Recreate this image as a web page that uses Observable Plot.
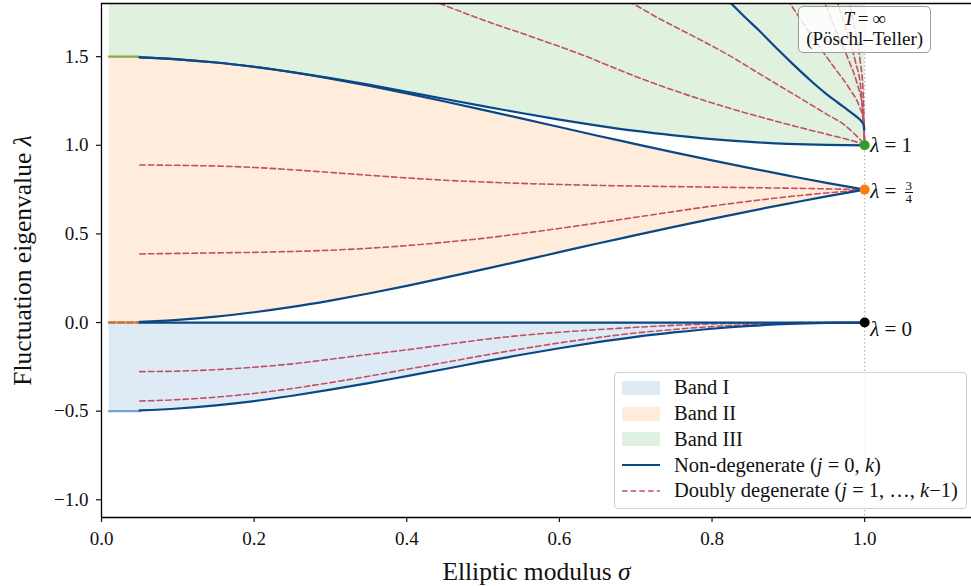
<!DOCTYPE html>
<html>
<head>
<meta charset="utf-8">
<script src="https://cdn.jsdelivr.net/npm/d3@7"></script>
<script src="https://cdn.jsdelivr.net/npm/@observablehq/plot@0.6"></script>
<style>
  html, body { margin: 0; padding: 0; background: #fff; }
  #wrap { position: relative; width: 971px; height: 586px; font-family: "Liberation Serif", "DejaVu Serif", serif; color: #111; }
  #wrap svg text { font-family: "Liberation Serif", "DejaVu Serif", serif !important; }
  .ov { position: absolute; white-space: nowrap; font-family: "Liberation Serif", "DejaVu Serif", serif; }
  #tbox { border: 1.5px solid #9c9c9c; border-radius: 5px; background: rgba(255,255,255,0.82); text-align: center; font-size: 19px; line-height: 20px; box-sizing: border-box; padding-top: 2px; }
  #legend { border: 1.3px solid #d0d0d0; border-radius: 4px; background: rgba(255,255,255,0.82); box-sizing: border-box; }
  .row { position: absolute; left: 0; height: 26px; display: flex; align-items: center; font-size: 20.5px; }
  .row .key { width: 38px; height: 14px; margin-left: 7px; margin-right: 14px; flex: none; }
  .lab { font-size: 21px; line-height: 21px; }
  .frac { display: inline-block; vertical-align: middle; text-align: center; font-size: 13px; line-height: 12.5px; margin-left: 3px; }
  .frac .num { display: block; border-bottom: 0.9px solid #111; padding: 0 1px; }
  .frac .den { display: block; }
</style>
</head>
<body>
<div id="wrap"></div>
<script>
// ---------------- data ----------------
const xDomain = [0, 1.14];
const yDomain = [-1.1, 1.8];
const xTicks = [0, 0.2, 0.4, 0.6, 0.8, 1.0];
const yTicks = [-1.0, -0.5, 0.0, 0.5, 1.0, 1.5];

// elliptic modulus samples for the band edges and degenerate levels
const sigma = [0.05, 0.10, 0.15, 0.20, 0.25, 0.30, 0.35, 0.40, 0.45, 0.50,
               0.55, 0.60, 0.65, 0.70, 0.75, 0.80, 0.85, 0.90, 0.95, 1.00];
// sigma -> 0 limits (short coloured stubs)
const sigmaStart = 0.01;
const limitI = [-0.5, 0.0];
const limitII = [0.0, 1.5];
const limitIII = 1.5;

// non-degenerate band edges
const bandIBottom  = [-0.496, -0.485, -0.467, -0.443, -0.413, -0.379, -0.342, -0.302, -0.262, -0.221,
                      -0.182, -0.145, -0.111, -0.081, -0.056, -0.035, -0.019, -0.008, -0.002, 0.000];
const bandITop     = [0, 0, 0, 0, 0, 0, 0, 0, 0, 0, 0, 0, 0, 0, 0, 0, 0, 0, 0, 0];
const bandIIBottom = [0.004, 0.015, 0.033, 0.058, 0.088, 0.124, 0.164, 0.207, 0.253, 0.300,
                      0.348, 0.397, 0.446, 0.493, 0.540, 0.585, 0.629, 0.671, 0.712, 0.750];
const bandIITop    = [1.496, 1.485, 1.467, 1.442, 1.412, 1.376, 1.336, 1.293, 1.247, 1.200,
                      1.152, 1.103, 1.054, 1.007, 0.960, 0.915, 0.871, 0.829, 0.788, 0.750];
const bandIIIBottom= [1.496, 1.485, 1.467, 1.443, 1.413, 1.379, 1.342, 1.302, 1.261, 1.221,
                      1.182, 1.145, 1.111, 1.081, 1.056, 1.035, 1.019, 1.008, 1.002, 1.000];

// doubly degenerate levels inside bands I and II
const bandIDegUpper  = [-0.277, -0.274, -0.266, -0.252, -0.233, -0.207, -0.180, -0.154, -0.125, -0.096,
                        -0.073, -0.055, -0.040, -0.027, -0.016, -0.008, -0.003, -0.001, 0.000, 0.000];
const bandIDegLower  = [-0.443, -0.435, -0.421, -0.400, -0.372, -0.339, -0.303, -0.264, -0.225, -0.186,
                        -0.149, -0.115, -0.085, -0.059, -0.039, -0.023, -0.011, -0.004, -0.001, 0.000];
const bandIIDegUpper = [0.889, 0.887, 0.883, 0.875, 0.862, 0.847, 0.831, 0.816, 0.803, 0.793,
                        0.785, 0.779, 0.774, 0.770, 0.767, 0.764, 0.761, 0.758, 0.754, 0.750];
const bandIIDegLower = [0.387, 0.390, 0.393, 0.396, 0.401, 0.408, 0.419, 0.434, 0.453, 0.475,
                        0.502, 0.531, 0.562, 0.594, 0.626, 0.657, 0.685, 0.710, 0.731, 0.750];

// band III levels (steep, leave the top of the frame)
const b3DegA_s = [0.40, 0.443, 0.50, 0.56, 0.63, 0.69, 0.73, 0.76, 0.82, 0.87, 0.91, 0.95, 0.98, 1.00];
const b3DegA_v = [1.87, 1.80, 1.707, 1.618, 1.51, 1.405, 1.34, 1.295, 1.213, 1.152, 1.106, 1.063, 1.030, 1.005];
const b3DegB_s = [0.65, 0.696, 0.732, 0.76, 0.82, 0.87, 0.91, 0.95, 0.975, 0.99, 1.00];
const b3DegB_v = [1.90, 1.80, 1.712, 1.65, 1.513, 1.383, 1.28, 1.176, 1.11, 1.05, 1.005];
const b3EdgeC_s = [0.80, 0.825, 0.845, 0.862, 0.884, 0.906, 0.928, 0.95, 0.965, 0.978, 0.988, 0.995, 0.9985, 0.9995];
const b3EdgeC_v = [1.90, 1.80, 1.715, 1.646, 1.55, 1.458, 1.37, 1.289, 1.240, 1.199, 1.166, 1.140, 1.118, 1.09];
const b3DegD_s = [0.885, 0.902, 0.93, 0.96, 0.98, 0.993, 0.998, 1.00];
const b3DegD_v = [1.90, 1.80, 1.62, 1.44, 1.32, 1.22, 1.15, 1.005];
const b3DegE_s = [0.94, 0.948, 0.965, 0.98, 0.99, 0.997, 1.00];
const b3DegE_v = [1.88, 1.80, 1.62, 1.47, 1.35, 1.22, 1.005];
const b3DegF_s = [0.96, 0.965, 0.978, 0.988, 0.995, 1.00];
const b3DegF_v = [1.87, 1.80, 1.62, 1.47, 1.32, 1.005];
const b3DegG_s = [0.976, 0.98, 0.988, 0.994, 0.998, 1.00];
const b3DegG_v = [1.88, 1.80, 1.64, 1.48, 1.30, 1.005];

// Poschl-Teller limit points at sigma = 1
const limitPoints = [
  {s: 1, v: 0.0,  c: "#000000"},
  {s: 1, v: 0.75, c: "#ff7f0e"},
  {s: 1, v: 1.0,  c: "#2ca02c"}
];

// ---------------- tables ----------------
const fillI   = [{s: sigmaStart, lo: limitI[0], hi: limitI[1]}].concat(sigma.map((s, i) => ({s, lo: bandIBottom[i], hi: bandITop[i]})));
const fillII  = [{s: sigmaStart, lo: limitII[0], hi: limitII[1]}].concat(sigma.map((s, i) => ({s, lo: bandIIBottom[i], hi: bandIITop[i]})));
const fillIII = [{s: sigmaStart, lo: limitIII, hi: yDomain[1]}].concat(sigma.map((s, i) => ({s, lo: bandIIIBottom[i], hi: yDomain[1]})));

function series(id, ss, vs) { return ss.map((s, i) => ({id, s, v: vs[i]})); }
const solidSmooth = [].concat(
  series("I-bottom", sigma, bandIBottom),
  series("I-top", sigma, bandITop),
  series("II-bottom", sigma, bandIIBottom),
  series("II-top", sigma, bandIITop),
  series("III-bottom", sigma, bandIIIBottom)
);
const solidSteep = series("III-C", b3EdgeC_s, b3EdgeC_v);
const dashed = [].concat(
  series("I-a", sigma, bandIDegUpper),
  series("I-b", sigma, bandIDegLower),
  series("II-a", sigma, bandIIDegUpper),
  series("II-b", sigma, bandIIDegLower),
  series("III-A", b3DegA_s, b3DegA_v),
  series("III-B", b3DegB_s, b3DegB_v),
  series("III-D", b3DegD_s, b3DegD_v),
  series("III-E", b3DegE_s, b3DegE_v),
  series("III-F", b3DegF_s, b3DegF_v),
  series("III-G", b3DegG_s, b3DegG_v)
);
const stubI   = [{s: sigmaStart, v: limitI[0]}, {s: sigma[0], v: limitI[0]}];
const stubII  = [{s: sigmaStart, v: limitII[0]}, {s: sigma[0], v: limitII[0]}];
const stubIII = [{s: sigmaStart, v: limitIII}, {s: sigma[0], v: limitIII}];

const navy = "#0a4785";
const rose = "#c24f66";
const fmt = d => (d < 0 ? "\u2212" : "") + Math.abs(d).toFixed(1);

const chart = Plot.plot({
  width: 971,
  height: 586,
  marginLeft: 101,
  marginRight: 0,
  marginTop: 3,
  marginBottom: 69,
  style: {fontFamily: "'Liberation Serif', serif", background: "white", color: "#111"},
  x: {domain: xDomain},
  y: {domain: yDomain},
  color: {type: "identity"},
  marks: [
    Plot.areaY(fillI,   {x: "s", y1: "lo", y2: "hi", fill: "#1f77b4", fillOpacity: 0.15, curve: "monotone-x"}),
    Plot.areaY(fillII,  {x: "s", y1: "lo", y2: "hi", fill: "#ff7f0e", fillOpacity: 0.15, curve: "monotone-x"}),
    Plot.areaY(fillIII, {x: "s", y1: "lo", y2: "hi", fill: "#2ca02c", fillOpacity: 0.15, curve: "monotone-x", clip: true}),
    Plot.ruleX([1], {stroke: "#b3b3b3", strokeWidth: 1.3, strokeDasharray: "1.3,2.6"}),
    Plot.line(stubI,   {x: "s", y: "v", stroke: "#6fa6d6", strokeWidth: 2.4}),
    Plot.line(stubII,  {x: "s", y: "v", stroke: "#f4b888", strokeWidth: 2.6}),
    Plot.line(stubII,  {x: "s", y: "v", stroke: "#c0743a", strokeWidth: 2.6, strokeDasharray: "6,3"}),
    Plot.line(stubIII, {x: "s", y: "v", stroke: "#8aaa45", strokeWidth: 2.4}),
    Plot.line(dashed, {x: "s", y: "v", z: "id", stroke: rose, strokeWidth: 1.6, strokeDasharray: "5.5,3.2", curve: "monotone-x", clip: true}),
    Plot.line(solidSmooth, {x: "s", y: "v", z: "id", stroke: navy, strokeWidth: 2.2, curve: "monotone-x", clip: true}),
    Plot.line(solidSteep,  {x: "s", y: "v", stroke: navy, strokeWidth: 2.2, curve: "catmull-rom", clip: true}),
    Plot.dot(limitPoints, {x: "s", y: "v", fill: "c", r: 5, stroke: "none"}),
    Plot.ruleX([xDomain[0]], {stroke: "black", strokeWidth: 1.3}),
    Plot.ruleY([yDomain[0]], {stroke: "black", strokeWidth: 1.3}),
    Plot.ruleY([yDomain[1]], {stroke: "black", strokeWidth: 1.3}),
    Plot.axisX({ticks: xTicks, tickFormat: fmt, tickSize: 5, tickPadding: 9, fontSize: 19, label: null, strokeWidth: 1.2}),
    Plot.axisY({ticks: yTicks, tickFormat: fmt, tickSize: 5, tickPadding: 8, fontSize: 19, label: null, strokeWidth: 1.2}),
    Plot.text(["Elliptic modulus \u03c3"], {frameAnchor: "bottom", textAnchor: "middle", lineAnchor: "middle", dy: 54, fontSize: 25.5, className: "rich"}),
    Plot.text(["Fluctuation eigenvalue \u03bb"], {frameAnchor: "left", textAnchor: "middle", lineAnchor: "middle", rotate: -90, dx: -79, fontSize: 25.5, className: "rich"})
  ]
});

// italic math letters in the axis labels
d3.select(chart).selectAll("g.rich text").each(function () {
  this.innerHTML = this.textContent.replace(/([\u03c3\u03bb])/g, '<tspan font-style="italic">$1</tspan>');
});

const wrap = document.getElementById("wrap");
wrap.appendChild(chart);

const sx = chart.scale("x"), sy = chart.scale("y");
const px1 = sx.apply(1);

// T = infinity box
const tbox = document.createElement("div");
tbox.id = "tbox"; tbox.className = "ov";
tbox.style.left = (px1 - 66) + "px"; tbox.style.top = "6px";
tbox.style.width = "133px"; tbox.style.height = "47px";
tbox.innerHTML = '<i>T</i>\u2009=\u2009\u221e<br>(P\u00f6schl\u2013Teller)';
wrap.appendChild(tbox);

// point labels
function addLabel(v, html, dy) {
  const el = document.createElement("div");
  el.className = "ov lab";
  el.style.left = (px1 + 6) + "px";
  el.style.top = (sy.apply(v) + dy - 10.5) + "px";
  el.innerHTML = html;
  wrap.appendChild(el);
}
addLabel(1.0, '<i>\u03bb</i> = 1', 1);
addLabel(0.0, '<i>\u03bb</i> = 0', 7);
addLabel(0.75, '<i>\u03bb</i> = <span class="frac"><span class="num">3</span><span class="den">4</span></span>', 1);

// legend
const legendItems = [
  {label: "Band I", kind: "patch", color: "rgba(31,119,180,0.15)"},
  {label: "Band II", kind: "patch", color: "rgba(255,127,14,0.15)"},
  {label: "Band III", kind: "patch", color: "rgba(44,160,44,0.15)"},
  {label: "Non-degenerate (<i>j</i> = 0, <i>k</i>)", kind: "solid"},
  {label: "Doubly degenerate (<i>j</i> = 1, \u2026, <i>k</i>\u22121)", kind: "dashed"}
];
const legend = document.createElement("div");
legend.id = "legend"; legend.className = "ov";
legend.style.left = "614px"; legend.style.top = "372px";
legend.style.width = "353px"; legend.style.height = "137px";
legendItems.forEach((it, i) => {
  const row = document.createElement("div");
  row.className = "row";
  row.style.top = (1.7 + i * 25.8) + "px";
  let key;
  if (it.kind === "patch") {
    key = `<div class="key" style="background:${it.color}"></div>`;
  } else {
    const dash = it.kind === "dashed" ? 'stroke-dasharray="5.5,3.2"' : "";
    const col = it.kind === "dashed" ? rose : navy;
    const w = it.kind === "dashed" ? 1.6 : 2.2;
    key = `<svg class="key" width="38" height="14"><line x1="0" x2="38" y1="7" y2="7" stroke="${col}" stroke-width="${w}" ${dash}/></svg>`;
  }
  row.innerHTML = key + `<span>${it.label}</span>`;
  legend.appendChild(row);
});
wrap.appendChild(legend);
</script>
</body>
</html>
